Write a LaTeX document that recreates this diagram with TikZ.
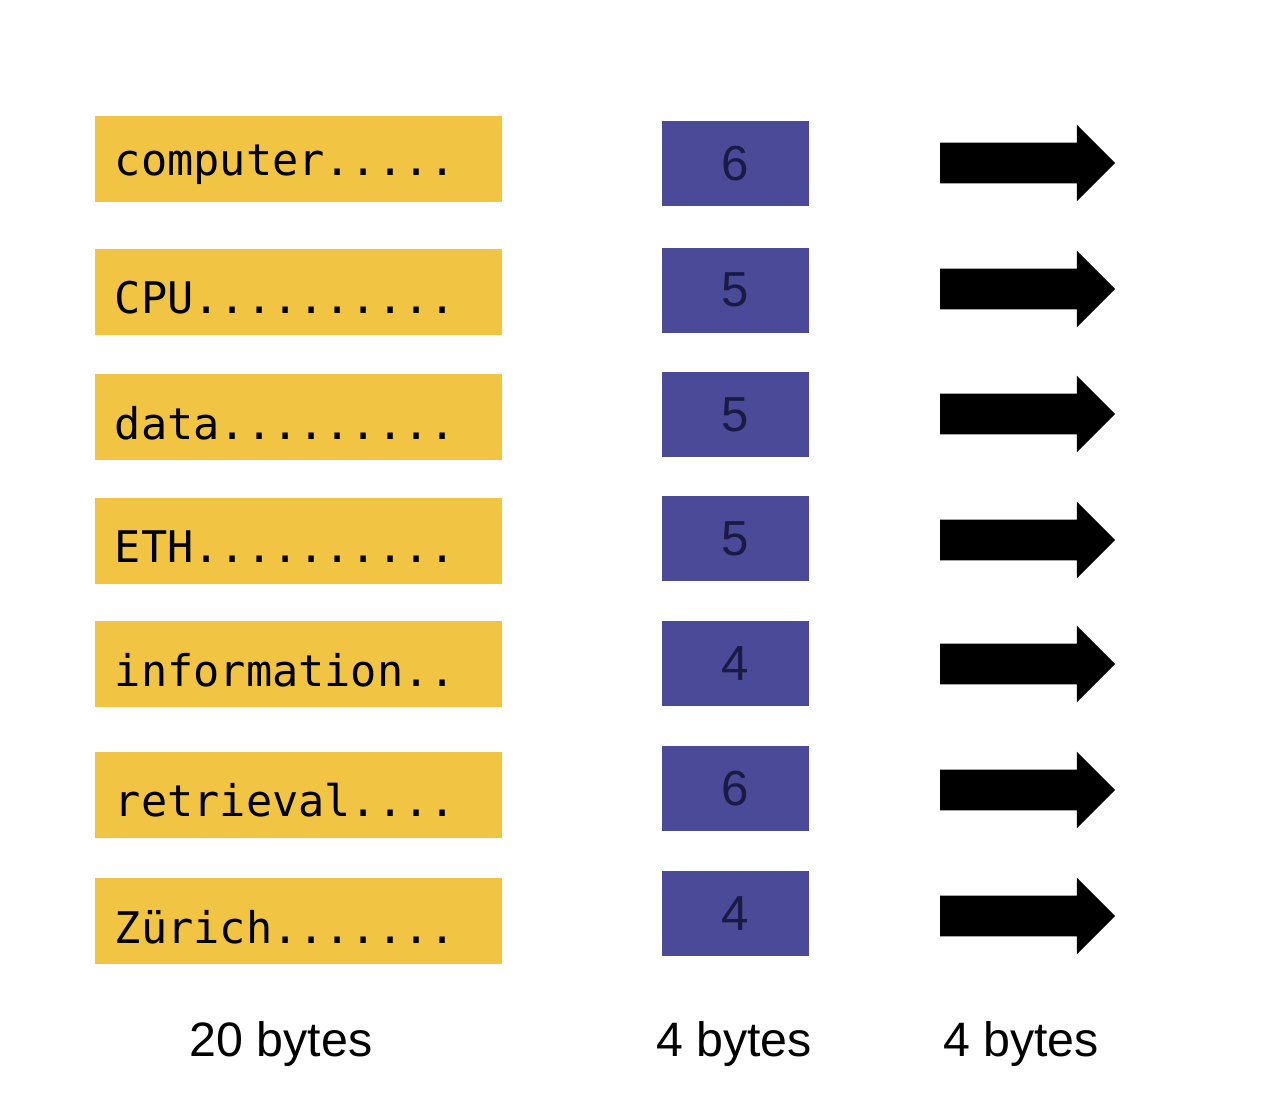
\documentclass[tikz,border=0pt]{standalone}
\usepackage{fontspec}
\setmainfont{Liberation Sans}
\setmonofont{DejaVu Sans Mono}
\usetikzlibrary{shapes,arrows}

\definecolor{termyellow}{HTML}{F1C444}
\definecolor{ptrblue}{HTML}{4B4A98}
\definecolor{digitnavy}{HTML}{1A1A44}

\begin{document}
\begin{tikzpicture}[
    termbox/.style = {rectangle,
                      fill = termyellow,
                      minimum width = 8.14cm,
                      minimum height = 1.72cm},
    termtext/.style = {anchor = west,
                       font = \ttfamily\fontsize{24.8}{29}\selectfont},
    freqbox/.style = {rectangle,
                      fill = ptrblue,
                      minimum width = 2.94cm,
                      minimum height = 1.7cm,
                      text = digitnavy,
                      font = \fontsize{28}{32}\selectfont},
    ptrarrow/.style = {single arrow,
                       fill = black,
                       inner xsep = 0pt,
                       inner ysep = 0.4cm,
                       single arrow head extend = 0.36cm,
                       minimum height = 3.5cm},
    sizetext/.style = {font = \fontsize{27.5}{32}\selectfont}]

    \useasboundingbox[fill = white] (0,0) rectangle (25.32,-22.2);

    % terms (20 bytes each)
    \node[termbox] (T1) at (5.97,-3.18) {};
    \node[termtext] at ([xshift=0.28cm,yshift=-0.12cm]T1.west) {computer.....};

    \node[termbox] (T2) at (5.97,-5.83) {};
    \node[termtext] at ([xshift=0.28cm,yshift=-0.12cm]T2.west) {CPU..........};

    \node[termbox] (T3) at (5.97,-8.34) {};
    \node[termtext] at ([xshift=0.28cm,yshift=-0.12cm]T3.west) {data.........};

    \node[termbox] (T4) at (5.97,-10.81) {};
    \node[termtext] at ([xshift=0.28cm,yshift=-0.12cm]T4.west) {ETH..........};

    \node[termbox] (T5) at (5.97,-13.28) {};
    \node[termtext] at ([xshift=0.28cm,yshift=-0.12cm]T5.west) {information..};

    \node[termbox] (T6) at (5.97,-15.89) {};
    \node[termtext] at ([xshift=0.28cm,yshift=-0.12cm]T6.west) {retrieval....};

    \node[termbox] (T7) at (5.97,-18.42) {};
    \node[termtext] at ([xshift=0.28cm,yshift=-0.12cm]T7.west) {Zürich.......};

    % document frequencies
    \node[freqbox] (F1) at (14.71,-3.27) {6};
    \node[freqbox] (F2) at (14.71,-5.80) {5};
    \node[freqbox] (F3) at (14.71,-8.29) {5};
    \node[freqbox] (F4) at (14.71,-10.77) {5};
    \node[freqbox] (F5) at (14.71,-13.27) {4};
    \node[freqbox] (F6) at (14.71,-15.77) {6};
    \node[freqbox] (F7) at (14.71,-18.27) {4};

    % pointers to postings
    \node[ptrarrow] (P1) at (20.35,-3.26) {};
    \node[ptrarrow] (P2) at (20.35,-5.78) {};
    \node[ptrarrow] (P3) at (20.35,-8.28) {};
    \node[ptrarrow] (P4) at (20.35,-10.80) {};
    \node[ptrarrow] (P5) at (20.35,-13.28) {};
    \node[ptrarrow] (P6) at (20.35,-15.80) {};
    \node[ptrarrow] (P7) at (20.35,-18.32) {};

    % sizes
    \node[sizetext] (S1) at (5.62,-20.88) {20 bytes};
    \node[sizetext] (S2) at (14.68,-20.88) {4 bytes};
    \node[sizetext] (S3) at (20.42,-20.88) {4 bytes};

\end{tikzpicture}
\end{document}
